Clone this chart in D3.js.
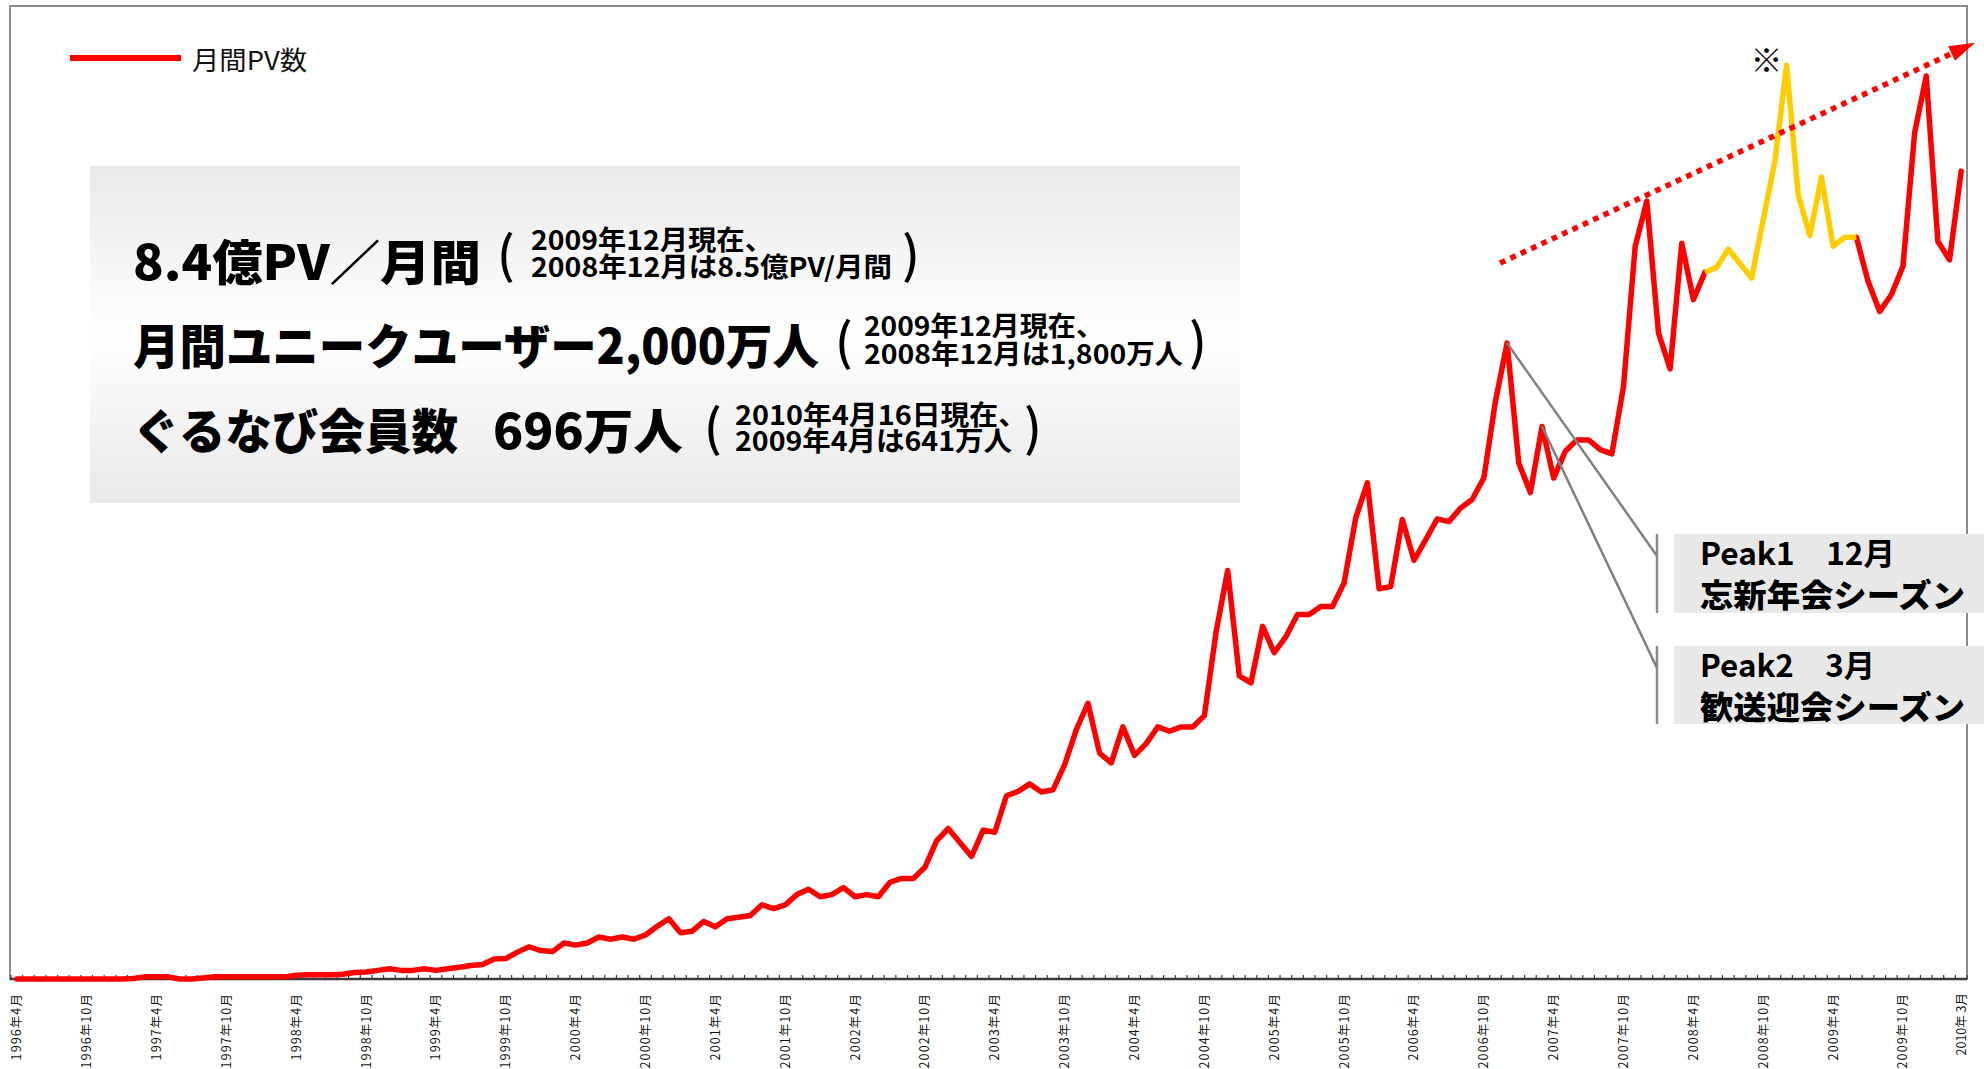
<!DOCTYPE html>
<html lang="ja">
<head>
<meta charset="utf-8">
<script src="https://cdn.jsdelivr.net/npm/d3@7"></script>
<style>
  html, body { margin: 0; padding: 0; background: #fff; }
  svg { display: block; }
  text { font-family: "Noto Sans CJK JP", "Noto Sans", sans-serif; }
</style>
</head>
<body>
<svg id="chart" width="1984" height="1069"></svg>
<script>
// ---- data -------------------------------------------------------------
// monthly categories, April 1996 .. March 2010
const firstYear = 1996, firstMonth = 4, monthCount = 168;
const months = d3.range(monthCount).map(i => {
  const m = firstMonth - 1 + i;
  return `${firstYear + Math.floor(m / 12)}-${String(m % 12 + 1).padStart(2, "0")}`;
});

// monthly page views (億PV), one value per month
const monthlyPV = [
  // 1996 Apr–Dec
  0, 0, 0, 0, 0, 0, 0, 0, 0,
  // 1997
  0, 0.005, 0.02, 0.02, 0.02, 0, 0, 0.01, 0.02, 0.02, 0.02, 0.02,
  // 1998
  0.02, 0.02, 0.02, 0.035, 0.04, 0.04, 0.04, 0.045, 0.06, 0.065, 0.08, 0.095,
  // 1999
  0.08, 0.08, 0.095, 0.08, 0.095, 0.11, 0.125, 0.135, 0.185, 0.19, 0.25, 0.3,
  // 2000
  0.265, 0.255, 0.335, 0.315, 0.335, 0.39, 0.37, 0.39, 0.37, 0.41, 0.49, 0.56,
  // 2001
  0.43, 0.445, 0.535, 0.485, 0.56, 0.575, 0.59, 0.69, 0.655, 0.69, 0.785, 0.835,
  // 2002
  0.765, 0.785, 0.85, 0.765, 0.785, 0.765, 0.9, 0.935, 0.935, 1.04, 1.285, 1.4,
  // 2003
  1.27, 1.14, 1.385, 1.365, 1.705, 1.745, 1.815, 1.74, 1.76, 1.995, 2.32, 2.565,
  // 2004
  2.1, 2.01, 2.345, 2.08, 2.19, 2.345, 2.305, 2.345, 2.345, 2.45, 3.225, 3.8,
  // 2005
  2.82, 2.755, 3.28, 3.035, 3.185, 3.39, 3.39, 3.465, 3.465, 3.685, 4.29, 4.615,
  // 2006
  3.63, 3.65, 4.275, 3.895, 4.085, 4.28, 4.255, 4.38, 4.46, 4.66, 5.375, 5.915,
  // 2007
  4.8, 4.525, 5.14, 4.66, 4.91, 5.015, 5.015, 4.925, 4.885, 5.515, 6.815, 7.235,
  // 2008
  6.01, 5.675, 6.845, 6.32, 6.575, 6.62, 6.79, 6.655, 6.52, 7.065, 7.605, 8.5,
  // 2009
  7.295, 6.915, 7.46, 6.815, 6.9, 6.9, 6.49, 6.21, 6.365, 6.63, 7.87, 8.4,
  // 2010 Jan–Mar
  6.86, 6.69, 7.515
];

// period drawn in yellow
const highlightFrom = "2008-05", highlightTo = "2009-06";
// month marked with ※
const markMonth = "2008-12";

// x-axis labels
const tickMonths = [
  "1996-04","1996-10","1997-04","1997-10","1998-04","1998-10","1999-04","1999-10",
  "2000-04","2000-10","2001-04","2001-10","2002-04","2002-10","2003-04","2003-10",
  "2004-04","2004-10","2005-04","2005-10","2006-04","2006-10","2007-04","2007-10",
  "2008-04","2008-10","2009-04","2009-10","2010-03"
];
const tickLabels = [
  "1996年4月","1996年10月","1997年4月","1997年10月","1998年4月","1998年10月","1999年4月","1999年10月",
  "2000年4月","2000年10月","2001年4月","2001年10月","2002年4月","2002年10月","2003年4月","2003年10月",
  "2004年4月","2004年10月","2005年4月","2005年10月","2006年4月","2006年10月","2007年4月","2007年10月",
  "2008年4月","2008年10月","2009年4月","2009年10月","2010年 3月"
];

// trend arrow, in (month index, 億PV)
const trendStart = [127.4, 6.66], trendEnd = [168.2, 8.71];

// peak call-outs
const peakMonths = ["2006-12", "2007-03"];
const peakTitles = ["Peak1　12月", "Peak2　3月"];
const peakNotes  = ["忘新年会シーズン", "歓送迎会シーズン"];

// ---- scales -----------------------------------------------------------
const svg = d3.select("#chart");
const plot = { left: 11, right: 1967, top: 6, bottom: 979 };
const x = d3.scaleLinear().domain([-0.5, monthCount - 0.5]).range([plot.left, plot.right]);
const y = d3.scaleLinear().domain([0, 9]).range([plot.bottom, plot.bottom - 9 * 107.5]);
const idx = m => months.indexOf(m);

// ---- frame and axis ---------------------------------------------------
svg.append("rect")
  .attr("x", 10).attr("y", 6).attr("width", 1957).attr("height", 973)
  .attr("fill", "none").attr("stroke", "#8c8c8c").attr("stroke-width", 2);

svg.append("g").selectAll("line").data(d3.range(monthCount + 1)).join("line")
  .attr("x1", k => x(k - 0.5)).attr("x2", k => x(k - 0.5))
  .attr("y1", plot.bottom).attr("y2", plot.bottom - 4)
  .attr("stroke", "#3a3a3a").attr("stroke-width", 1.2);

svg.append("line")
  .attr("x1", 10).attr("x2", plot.right).attr("y1", plot.bottom).attr("y2", plot.bottom)
  .attr("stroke", "#3a3a3a").attr("stroke-width", 2.5);

svg.append("g").selectAll("text").data(tickMonths).join("text")
  .attr("transform", m => `translate(${x(idx(m))},993) rotate(-90)`)
  .attr("text-anchor", "end").attr("dy", "0.36em")
  .attr("font-size", 12.5)
  .attr("letter-spacing", (m, i) => i === tickMonths.length - 1 ? 0 : 1.1)
  .attr("fill", "#111")
  .text((m, i) => tickLabels[i]);

// ---- legend -----------------------------------------------------------
svg.append("line").attr("x1", 70).attr("x2", 181).attr("y1", 58).attr("y2", 58)
  .attr("stroke", "#ff0000").attr("stroke-width", 6);
svg.append("text").attr("x", 192).attr("y", 70).attr("font-size", 26)
  .attr("textLength", 115).attr("lengthAdjust", "spacingAndGlyphs")
  .attr("fill", "#111").text("月間PV数");

// ---- summary panel ----------------------------------------------------
const grad = svg.append("defs").append("linearGradient")
  .attr("id", "panelFill").attr("x1", 0).attr("y1", 0).attr("x2", 0).attr("y2", 1);
grad.append("stop").attr("offset", "0%").attr("stop-color", "#e9e9e9");
grad.append("stop").attr("offset", "50%").attr("stop-color", "#ffffff");
grad.append("stop").attr("offset", "100%").attr("stop-color", "#e9e9e9");
svg.append("rect").attr("x", 90).attr("y", 166).attr("width", 1150).attr("height", 337)
  .attr("fill", "url(#panelFill)");

const panelRows = [
  { parts: [["8.4億PV／月間", 133, 348]], base: 280, open: 506, close: 911, parenBottom: 282,
    notes: ["2009年12月現在、", "2008年12月は8.5億PV/月間"], noteX: 531, noteW: [242, 361], noteBase: [250, 277] },
  { parts: [["月間ユニークユーザー2,000万人", 133, 686]], base: 364, open: 844, close: 1198, parenBottom: 369,
    notes: ["2009年12月現在、", "2008年12月は1,800万人"], noteX: 864, noteW: [240, 319], noteBase: [336, 364] },
  { parts: [["ぐるなび会員数", 133, 325], ["696万人", 493, 190]], base: 449, open: 713, close: 1033, parenBottom: 455,
    notes: ["2010年4月16日現在、", "2009年4月は641万人"], noteX: 735, noteW: [292, 277], noteBase: [425, 451] }
];
const parenSize = 50;
const panel = svg.append("g").attr("fill", "#000");
panelRows.forEach(r => {
  r.parts.forEach(([t, px, w]) => {
    panel.append("text").attr("x", px).attr("y", r.base)
      .attr("font-size", 48).attr("font-weight", 900)
      .attr("textLength", w).attr("lengthAdjust", "spacingAndGlyphs").text(t);
  });
  [["(", r.open], [")", r.close]].forEach(([p, cx]) => {
    panel.append("text").attr("x", cx).attr("y", r.parenBottom - 0.19 * parenSize)
      .attr("font-size", parenSize).attr("font-weight", 500)
      .attr("text-anchor", "middle").text(p);
  });
  r.notes.forEach((t, i) => {
    panel.append("text").attr("x", r.noteX).attr("y", r.noteBase[i])
      .attr("font-size", 27).attr("font-weight", 700)
      .attr("textLength", r.noteW[i]).attr("lengthAdjust", "spacingAndGlyphs").text(t);
  });
});

// ---- series -----------------------------------------------------------
const hiA = idx(highlightFrom), hiB = idx(highlightTo);
const series = monthlyPV.map((v, i) => ({ i, v }));
const line = d3.line().x(d => x(d.i)).y(d => y(d.v));

svg.append("path")
  .datum(series)
  .attr("d", line.defined(d => d.i <= hiA || d.i >= hiB))
  .attr("fill", "none").attr("stroke", "#ff0000").attr("stroke-width", 5.5)
  .attr("stroke-linejoin", "round").attr("stroke-linecap", "round");

svg.append("path")
  .datum(series.filter(d => d.i >= hiA && d.i <= hiB))
  .attr("d", d3.line().x(d => x(d.i)).y(d => y(d.v)))
  .attr("fill", "none").attr("stroke", "#ffcc00").attr("stroke-width", 5.5)
  .attr("stroke-linejoin", "round").attr("stroke-linecap", "butt");

// ※ mark over the highlighted peak
svg.append("text")
  .attr("x", x(idx(markMonth)) - 20).attr("y", y(monthlyPV[idx(markMonth)]) + 7)
  .attr("text-anchor", "middle").attr("font-size", 32).attr("font-weight", 900)
  .text("※");

// ---- trend arrow ------------------------------------------------------
const p0 = [x(trendStart[0]), y(trendStart[1])];
const p1 = [x(trendEnd[0]), y(trendEnd[1])];
const ang = Math.atan2(p1[1] - p0[1], p1[0] - p0[0]);
const headLen = 26, headHalf = 8;
const base = [p1[0] - headLen * Math.cos(ang), p1[1] - headLen * Math.sin(ang)];
svg.append("line")
  .attr("x1", p0[0]).attr("y1", p0[1]).attr("x2", base[0]).attr("y2", base[1])
  .attr("stroke", "#ff0000").attr("stroke-width", 5.5).attr("stroke-dasharray", "5.7 5.7");
svg.append("path")
  .attr("d", `M${p1[0]},${p1[1]}`
    + `L${base[0] + headHalf * Math.sin(ang)},${base[1] - headHalf * Math.cos(ang)}`
    + `L${base[0] - headHalf * Math.sin(ang)},${base[1] + headHalf * Math.cos(ang)}Z`)
  .attr("fill", "#ff0000");

// ---- peak call-outs ---------------------------------------------------
const boxes = [{ y: 534, h: 79 }, { y: 646, h: 78 }];
const boxX = 1674, barX = 1657;
peakMonths.forEach((m, k) => {
  const b = boxes[k];
  svg.append("rect").attr("x", boxX).attr("y", b.y).attr("width", 1984 - boxX).attr("height", b.h)
    .attr("fill", "#e8e8e8");
  svg.append("line").attr("x1", barX).attr("x2", barX).attr("y1", b.y).attr("y2", b.y + b.h)
    .attr("stroke", "#8c8c8c").attr("stroke-width", 2.5);
  svg.append("line")
    .attr("x1", x(idx(m))).attr("y1", y(monthlyPV[idx(m)]))
    .attr("x2", barX).attr("y2", b.y + 22)
    .attr("stroke", "#808080").attr("stroke-width", 2.5);
  svg.append("text").attr("x", 1700).attr("y", b.y + 31)
    .attr("font-size", 31).attr("font-weight", 700).attr("fill", "#000")
    .attr("textLength", k === 0 ? 195 : 175).attr("lengthAdjust", "spacingAndGlyphs")
    .text(peakTitles[k]);
  svg.append("text").attr("x", 1700).attr("y", b.y + 73)
    .attr("font-size", 32).attr("font-weight", 900).attr("fill", "#000")
    .attr("textLength", 265).attr("lengthAdjust", "spacingAndGlyphs")
    .text(peakNotes[k]);
});
</script>
</body>
</html>
